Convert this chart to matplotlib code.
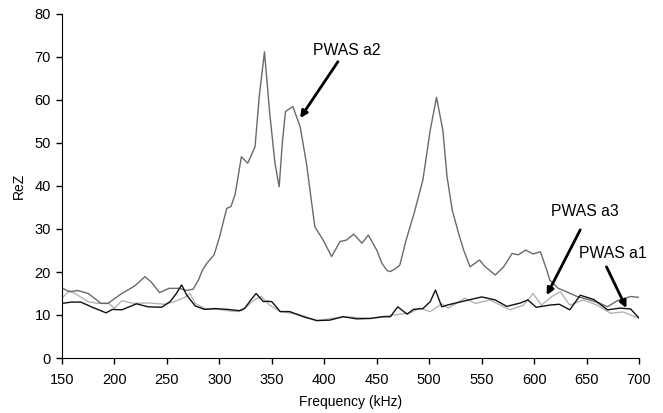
import matplotlib
matplotlib.use("Agg")
import matplotlib.pyplot as plt

plt.rcParams['font.family'] = ['Liberation Sans', 'DejaVu Sans']

# PWAS a2 (dark gray)
a2_freq = [150, 157, 165, 175, 181, 187, 194, 200, 207, 219, 229, 235, 243, 252,
           262, 268, 275, 280, 284, 288, 295, 300, 307, 311, 315, 321, 327, 334,
           338, 343, 348, 353, 357, 360, 363, 370, 377, 383, 391, 399, 407, 415,
           421, 428, 436, 442, 450, 455, 460, 463, 468, 472, 478, 486, 494, 501,
           507, 513, 517, 522, 528, 533, 539, 548, 553, 563, 571, 579, 585, 592,
           599, 606, 612, 615, 623, 630, 641, 653, 662, 670, 679, 692, 700]
a2_rez = [16.3, 15.4, 15.7, 15.0, 13.9, 12.7, 12.7, 13.8, 15.0, 16.7, 18.9, 17.7,
          15.2, 16.2, 16.2, 15.7, 16.0, 18.1, 20.5, 22.0, 24.0, 28.0, 34.8, 35.2,
          38.0, 46.8, 45.3, 49.1, 60.8, 71.2, 56.9, 45.3, 39.8, 50.0, 57.3, 58.5,
          53.8, 45.3, 30.5, 27.4, 23.6, 27.1, 27.4, 28.8, 26.7, 28.6, 25.1, 22.0,
          20.3, 20.1, 20.8, 21.6, 27.4, 34.0, 41.4, 53.0, 60.6, 53.0, 42.2, 34.4,
          29.0, 25.0, 21.2, 22.8, 21.3, 19.3, 21.2, 24.3, 24.0, 25.1, 24.2, 24.7,
          20.5, 18.1, 16.2, 15.5, 14.3, 13.5, 12.8, 11.9, 13.3, 14.3, 14.1]

# PWAS a1 (black)
a1_freq = [150, 159, 168, 178, 192, 198, 207, 221, 232, 245, 253, 259, 264, 269,
           277, 286, 296, 308, 319, 324, 330, 335, 342, 346, 350, 358, 367, 380,
           393, 405, 418, 431, 444, 456, 463, 470, 479, 485, 494, 501, 506, 512,
           517, 529, 550, 563, 574, 587, 594, 602, 615, 624, 634, 644, 657, 670,
           682, 692, 700]
a1_rez = [12.7, 13.0, 13.0, 11.9, 10.5, 11.3, 11.2, 12.6, 11.9, 11.8, 13.1, 15.0,
          17.0, 14.6, 12.1, 11.3, 11.5, 11.3, 11.0, 11.5, 13.5, 15.0, 13.1, 13.2,
          13.1, 10.8, 10.8, 9.6, 8.7, 8.8, 9.6, 9.1, 9.2, 9.6, 9.6, 11.9, 10.2,
          11.3, 11.5, 13.1, 15.8, 11.9, 12.3, 13.0, 14.2, 13.5, 12.0, 12.8, 13.5,
          11.8, 12.3, 12.5, 11.2, 14.6, 13.6, 11.2, 11.6, 11.4, 9.3]

# PWAS a3 (light gray)
a3_freq = [150, 157, 165, 175, 184, 194, 200, 207, 219, 232, 238, 248, 257, 267,
           272, 277, 286, 299, 315, 321, 334, 340, 348, 358, 375, 393, 418, 444,
           463, 482, 491, 501, 512, 518, 534, 544, 558, 577, 590, 599, 607, 617,
           625, 634, 647, 660, 673, 685, 700]
a3_rez = [13.9, 15.7, 14.6, 13.1, 12.7, 12.8, 11.6, 13.3, 12.7, 12.8, 12.7, 12.5,
          13.1, 14.1, 15.0, 12.7, 11.5, 11.3, 10.8, 11.0, 13.6, 14.3, 12.3, 10.8,
          10.2, 8.7, 9.6, 9.2, 9.9, 10.5, 11.6, 10.8, 12.6, 11.6, 13.9, 12.7,
          13.5, 11.2, 12.3, 15.0, 12.3, 14.3, 15.4, 12.3, 13.5, 12.3, 10.4, 10.7,
          9.2]

labels = ["PWAS a2", "PWAS a3", "PWAS a1"]
label_xy = [(421, 71.6), (648, 34.0), (675, 24.3)]
arrow_tail = [(413, 68.9), (644, 29.8), (669, 21.2)]
arrow_head = [(377, 55.8), (612, 14.6), (688, 11.6)]

fig = plt.figure(figsize=(6.63, 4.13), dpi=100)
ax = fig.add_axes([62 / 663, 55 / 413, 577 / 663, 344 / 413])

ax.plot(a3_freq, a3_rez, color='#b4b4b4', lw=1.0)
ax.plot(a2_freq, a2_rez, color='#6a6a6a', lw=1.0)
ax.plot(a1_freq, a1_rez, color='#111111', lw=1.0)

for txt, pos in zip(labels, label_xy):
    ax.text(pos[0], pos[1], txt, ha='center', va='center', fontsize=11.3)
for tail, head in zip(arrow_tail, arrow_head):
    ax.annotate('', xy=head, xytext=tail,
                arrowprops=dict(arrowstyle='-|>', color='black', lw=2,
                                mutation_scale=10, shrinkA=0, shrinkB=0))

ax.set_xlim(150, 700)
ax.set_ylim(0, 80)
ax.set_xticks(range(150, 701, 50))
ax.set_yticks(range(0, 81, 10))
for side in ['top', 'right']:
    ax.spines[side].set_visible(False)
ax.tick_params(direction='out', length=4, width=1, labelsize=10.5)
ax.tick_params(axis='x', pad=7)
ax.tick_params(axis='y', pad=4)
ax.set_xlabel("Frequency (kHz)", fontsize=10)
ax.set_ylabel("ReZ", fontsize=10)
ax.xaxis.set_label_coords(0.5, -0.108)
ax.yaxis.set_label_coords(-0.062, 0.5)

plt.savefig('out.png', dpi=100)
